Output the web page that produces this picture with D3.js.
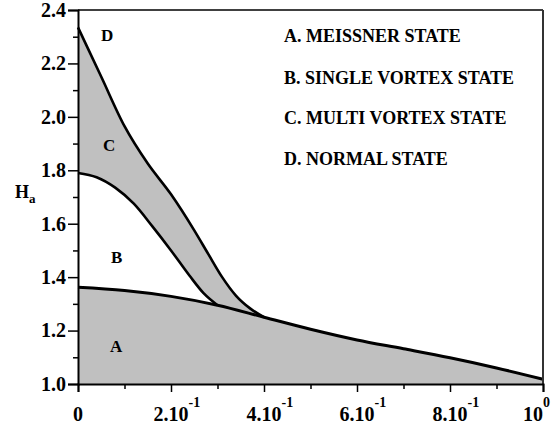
<!DOCTYPE html>
<html><head><meta charset="utf-8">
<script src="https://cdn.jsdelivr.net/npm/d3@7"></script>
<style>body{margin:0;background:#fff}svg{display:block}</style>
</head><body>
<svg id="c" width="555" height="428"></svg>
<script>
// Meissner / single-vortex boundary (A-B)
const lowerX = [0, 0.1, 0.2, 0.3, 0.4, 0.5, 0.6, 0.7, 0.8, 0.9, 1.0];
const lowerH = [1.362, 1.350, 1.328, 1.295, 1.250, 1.205, 1.165, 1.132, 1.098, 1.060, 1.018];
// single-vortex / multi-vortex boundary (B-C)
const middleX = [0, 0.04, 0.08, 0.12, 0.16, 0.2, 0.24, 0.27, 0.3];
const middleH = [1.79, 1.774, 1.735, 1.675, 1.59, 1.50, 1.405, 1.34, 1.295];
// multi-vortex / normal boundary (C-D)
const upperX = [0, 0.05, 0.1, 0.15, 0.2, 0.25, 0.28, 0.31, 0.34, 0.37, 0.4];
const upperH = [2.335, 2.15, 1.965, 1.825, 1.71, 1.575, 1.487, 1.40, 1.33, 1.283, 1.25];

const yMajor = [1.0, 1.2, 1.4, 1.6, 1.8, 2.0, 2.2, 2.4];
const yMinor = [1.1, 1.3, 1.5, 1.7, 1.9, 2.1, 2.3];
const xMajor = [0, 0.2, 0.4, 0.6, 0.8, 1.0];
const xMinor = [0.1, 0.3, 0.5, 0.7, 0.9];
const xTickBase = ["0", "2.10", "4.10", "6.10", "8.10", "10"];
const xTickExp = ["", "-1", "-1", "-1", "-1", "0"];

const legendItems = ["A. MEISSNER STATE", "B. SINGLE VORTEX STATE", "C. MULTI VORTEX STATE", "D. NORMAL STATE"];
const regionLabels = ["D", "C", "B", "A"];

const FONT = '"Liberation Serif", "Times New Roman", serif';
const svg = d3.select("#c");
const x = d3.scaleLinear().domain([0, 1]).range([78, 543]);
const y = d3.scaleLinear().domain([1.0, 2.4]).range([384, 10]);

const pts = (xs, hs) => xs.map((v, i) => [v, hs[i]]);
const lower = pts(lowerX, lowerH), middle = pts(middleX, middleH), upper = pts(upperX, upperH);

const area = d3.area().x(d => x(d[0])).y0(y(1.0)).y1(d => y(d[1])).curve(d3.curveMonotoneX);
const line = d3.line().x(d => x(d[0])).y(d => y(d[1])).curve(d3.curveMonotoneX);
const GRAY = "#c0c0c0";

svg.append("path").attr("d", area(upper)).attr("fill", GRAY);
svg.append("path").attr("d", area(middle)).attr("fill", "#fff");
svg.append("path").attr("d", area(lower)).attr("fill", GRAY);

svg.append("path").attr("d", line(upper)).attr("fill", "none").attr("stroke", "#000").attr("stroke-width", 2.6);
svg.append("path").attr("d", line(middle)).attr("fill", "none").attr("stroke", "#000").attr("stroke-width", 2.6);
svg.append("path").attr("d", line(lower)).attr("fill", "none").attr("stroke", "#000").attr("stroke-width", 3);

// frame top & right
svg.append("line").attr("x1", x(0)).attr("x2", x(1)).attr("y1", y(2.4)).attr("y2", y(2.4)).attr("stroke", "#000").attr("stroke-width", 1.6);
svg.append("line").attr("x1", x(1)).attr("x2", x(1)).attr("y1", y(2.4)).attr("y2", y(1.0)).attr("stroke", "#333").attr("stroke-width", 2);

// Y axis
const yAxMinor = svg.append("g").attr("transform", `translate(${x(0)},0)`)
  .call(d3.axisLeft(y).tickValues(yMinor).tickSize(5).tickFormat(""));
yAxMinor.select(".domain").remove();
const yAx = svg.append("g").attr("transform", `translate(${x(0)},0)`)
  .call(d3.axisLeft(y).tickValues(yMajor).tickSize(10).tickPadding(2).tickFormat(d3.format(".1f")));
yAx.select(".domain").attr("stroke-width", 2).attr("stroke", "#000");
svg.selectAll("g.tick line").attr("stroke", "#000").attr("stroke-width", 1.5);
yAx.selectAll("text").attr("font-family", FONT).attr("font-weight", "bold").attr("font-size", 20).attr("fill", "#000");

// X axis
const xAxMinor = svg.append("g").attr("transform", `translate(0,${y(1.0)})`)
  .call(d3.axisBottom(x).tickValues(xMinor).tickSize(5).tickFormat(""));
xAxMinor.select(".domain").remove();
const xAx = svg.append("g").attr("transform", `translate(0,${y(1.0)})`)
  .call(d3.axisBottom(x).tickValues(xMajor).tickSize(8).tickFormat(""));
xAx.select(".domain").attr("stroke-width", 2).attr("stroke", "#000");
svg.selectAll("g.tick line").attr("stroke", "#000").attr("stroke-width", 1.5);

xMajor.forEach((v, i) => {
  const last = i === xMajor.length - 1;
  const t = svg.append("text").attr("x", x(v)).attr("y", 421)
    .attr("text-anchor", last ? "end" : "middle")
    .attr("font-family", FONT).attr("font-weight", "bold").attr("font-size", 20)
    .text(xTickBase[i]);
  if (xTickExp[i]) {
    const w = t.node().getComputedTextLength();
    const sx = last ? x(v) : x(v) + w / 2;
    svg.append("text").attr("x", sx).attr("y", 407)
      .attr("font-family", FONT).attr("font-weight", "bold").attr("font-size", 14)
      .text(xTickExp[i]);
  }
});

// Y axis title H_a
const ht = svg.append("text").attr("x", 15).attr("y", 198)
  .attr("font-family", FONT).attr("font-weight", "bold").attr("font-size", 18);
ht.append("tspan").text("H");
ht.append("tspan").attr("font-size", 13).attr("dy", 5).text("a");

// Legend
const legY = [42, 84, 124, 165];
legendItems.forEach((s, i) => {
  svg.append("text").attr("x", 284).attr("y", legY[i])
    .attr("font-family", FONT).attr("font-weight", "bold").attr("font-size", 18).text(s);
});

// Region letters
const regPos = [[101, 41], [103, 151], [111, 263], [110, 352]];
regionLabels.forEach((s, i) => {
  svg.append("text").attr("x", regPos[i][0]).attr("y", regPos[i][1])
    .attr("font-family", FONT).attr("font-weight", "bold").attr("font-size", 17).text(s);
});
</script>
</body></html>
